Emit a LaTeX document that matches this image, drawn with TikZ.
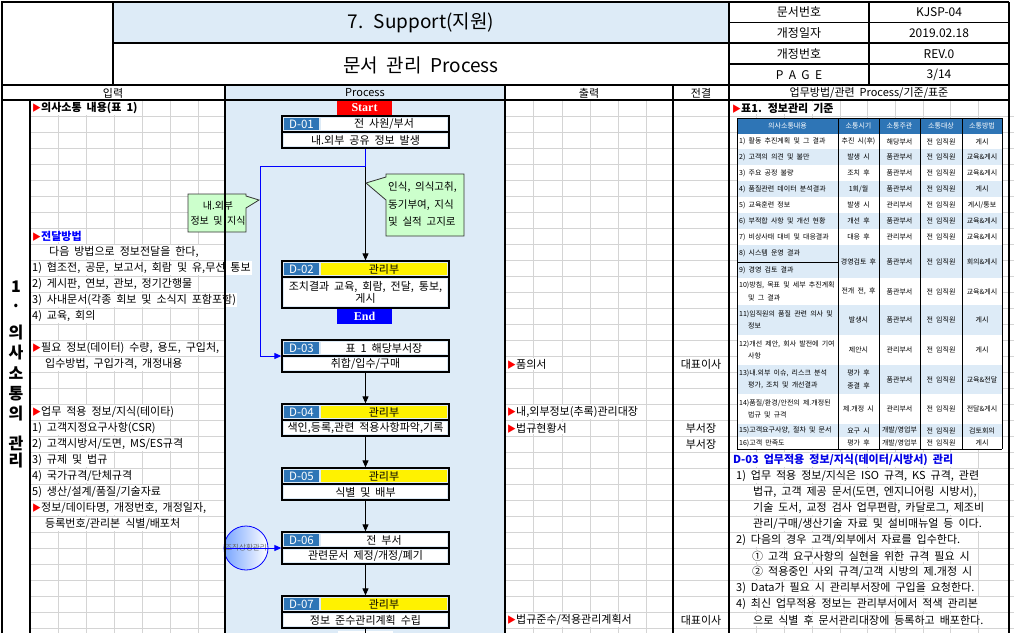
\documentclass[tikz,border=0pt]{standalone}
\usepackage{fontspec}
\setmainfont{Noto Sans CJK KR}[WordSpace=2]
\newfontfamily\serifb{Liberation Serif}
\usetikzlibrary{arrows.meta,shapes.geometric}
\definecolor{pblue}{RGB}{221,235,247}
\definecolor{lblue}{RGB}{46,117,182}
\definecolor{cgreen}{RGB}{204,255,204}
\definecolor{gridc}{RGB}{212,212,212}
\definecolor{dblue}{RGB}{0,0,230}
\newcommand\bul{{\color{red}\fontsize{9}{9}\selectfont ▶}}
\newcommand\DBox[7]{%
 \node[draw=black, line width=1.3pt, minimum width=167pt, minimum height=#7pt, inner sep=0pt] (#1) at (365.5,{#2+#7/2}) {};
 \fill[lblue] (284,{#2+2}) rectangle (319,{#2+14});
 \node[font=\fontsize{11.5}{12}\selectfont, text=white, inner sep=0pt] (#1l) at (301.5,{#2+8}) {#3};
 \fill[#4] (321,{#2+2}) rectangle (447,{#2+14});
 \node[font=\fontsize{11}{12}\selectfont, inner sep=0pt] (#1h) at (384,{#2+8}) {#5};
 \draw[line width=1.1pt] (282,{#2+16}) -- (449,{#2+16});
 \fill[white] (284,{#2+18}) rectangle (447,{#2+#7-2});
 \node[font=\fontsize{11}{12}\selectfont, inner sep=0pt, align=center] (#1b) at (365.5,{#2+16+(#7-16)/2}) {#6};
}
\newcommand\trow[8]{%
 \fill[#3] (737,#1) rectangle (1002,#2);
 \node[tc1] (t#1a) at (739,{(#1+#2)/2}) {#4};
 \node[tc] (t#1b) at (858.5,{(#1+#2)/2}) {#5};
 \node[tc] (t#1c) at (899.5,{(#1+#2)/2}) {#6};
 \node[tc] (t#1d) at (941,{(#1+#2)/2}) {#7};
 \node[tc] (t#1e) at (982,{(#1+#2)/2}) {#8};
 \draw[tline] (737,#2) -- (1002,#2);
}
\begin{document}
\begin{tikzpicture}[x=1pt,y=-1pt,
 grid/.style={draw=gridc, line width=0.6pt},
 bd/.style={draw=black, line width=1.1pt},
 lt/.style={anchor=west, fill=white, inner xsep=1pt, inner ysep=1pt, font=\fontsize{11}{12}\selectfont},
 ct/.style={fill=white, inner xsep=1pt, inner ysep=1pt, font=\fontsize{11}{12}\selectfont},
 hd/.style={font=\fontsize{11}{12}\selectfont, inner sep=0pt},
 hr/.style={font=\fontsize{12}{13}\selectfont, inner sep=0pt},
 vt/.style={font=\fontsize{16}{16}\selectfont\bfseries, inner sep=0pt},
 tc/.style={font=\fontsize{7}{12.5}\selectfont, align=center, inner sep=0pt},
 tc1/.style={font=\fontsize{7}{12.5}\selectfont, align=left, anchor=west, inner sep=0pt},
 tline/.style={draw=black, line width=0.6pt},
 arr/.style={draw=black, line width=1pt, -{Triangle[length=7pt,width=6pt]}},
 barr/.style={draw=blue, line width=1pt, -{Triangle[length=7pt,width=6pt]}},
 callout/.style={fill=cgreen, draw=black!80, line width=0.8pt},
 cot/.style={font=\fontsize{10.5}{11}\selectfont, inner sep=0pt},
 sebox/.style={minimum width=55pt, inner sep=0pt, text=white, font=\serifb\fontsize{12}{12}\selectfont\bfseries}
]
\useasboundingbox (0,0) rectangle (1014,633);
\fill[white] (0,0) rectangle (1014,633);
% fills
\fill[pblue] (113,2) rectangle (729,43);
\fill[pblue] (225,85) rectangle (505,633);
% grid
\foreach \x in {58,86,114,142,170,198} \draw[grid] (\x,100) -- (\x,633);
\foreach \x in {533,562,590,618,646} \draw[grid] (\x,100) -- (\x,633);
\foreach \i in {1,...,9} \draw[grid] ({729+27.7*\i},100) -- ({729+27.7*\i},633);
\foreach \i in {1,...,33} {
  \draw[grid] (30,{100+16*\i}) -- (225,{100+16*\i});
  \draw[grid] (505,{100+16*\i}) -- (1014,{100+16*\i});
}
% header texts
\node[font=\fontsize{19}{20}\selectfont, inner sep=0pt] (title1) at (421,23) {7. Support(지원)};
\node[font=\fontsize{19}{20}\selectfont, inner sep=0pt] (title2) at (421,65) {문서 관리 Process};
\node[hr] (h1) at (799,12.5) {문서번호};
\node[hr] (h2) at (939,12.5) {KJSP-04};
\node[hr] (h3) at (799,33) {개정일자};
\node[hr] (h4) at (939,33) {2019.02.18};
\node[hr] (h5) at (799,54) {개정번호};
\node[hr] (h6) at (939,54) {REV.0};
\node[hr] (h7) at (799,75) {P A G E};
\node[hr] (h8) at (939,75) {3/14};
\node[hd] (c1) at (113,93) {입력};
\node[hd] (c2) at (365,93) {Process};
\node[hd] (c3) at (589,93) {출력};
\node[hd] (c4) at (701,93) {전결};
\node[hd] (c5) at (869,93) {업무방법/관련 Process/기준/표준};
% vertical section label
\node[vt] (v1) at (16,287) {1};
\node[vt] (v2) at (16,306) {.};
\node[vt] (v3) at (16,333) {의};
\node[vt] (v4) at (16,353) {사};
\node[vt] (v5) at (16,373) {소};
\node[vt] (v6) at (16,394) {통};
\node[vt] (v7) at (16,414) {의};
\node[vt] (v8) at (16,443) {관};
\node[vt] (v9) at (16,461) {리};
% left column
\node[lt] (a0) at (31,108) {\bul\textbf{의사소통 내용(표 1)}};
\node[lt] (a8) at (31,236) {\bul\textcolor{blue}{\textbf{전달방법}}};
\node[lt] (a9) at (48,252) {다음 방법으로 정보전달을 한다,};
\node[lt] (a10) at (31,268) {1) 협조전, 공문, 보고서, 회람 및 유,무선 통보};
\node[lt] (a11) at (31,284) {2) 게시판, 연보, 관보, 정기간행물};
\node[lt] (a12) at (31,300) {3) 사내문서(각종 회보 및 소식지 포함포함)};
\node[lt] (a13) at (31,316) {4) 교육, 회의};
\node[lt] (a15) at (31,348) {\bul 필요 정보(데이터) 수량, 용도, 구입처,};
\node[lt] (a16) at (44,364) {입수방법, 구입가격, 개정내용};
\node[lt] (a19) at (31,412) {\bul 업무 적용 정보/지식(테이타)};
\node[lt] (a20) at (31,428) {1) 고객지정요구사항(CSR)};
\node[lt] (a21) at (31,444) {2) 고객시방서/도면, MS/ES규격};
\node[lt] (a22) at (31,460) {3) 규제 및 법규};
\node[lt] (a23) at (31,476) {4) 국가규격/단체규격};
\node[lt] (a24) at (31,492) {5) 생산/설계/품질/기술자료};
\node[lt] (a25) at (31,508) {\bul 정보/데이타명, 개정번호, 개정일자,};
\node[lt] (a26) at (44,524) {등록번호/관리본 식별/배포처};
% output column
\node[lt] (o16) at (506,364) {\bul 품의서};
\node[ct] (e16) at (701,364) {대표이사};
\node[lt] (o19) at (506,412) {\bul 내,외부정보(추록)관리대장};
\node[lt] (o20) at (506,428) {\bul 법규현황서};
\node[ct] (e20) at (701,428) {부서장};
\node[ct] (e21) at (701,444) {부서장};
\node[lt] (o32) at (506,620) {\bul 법규준수/적용관리계획서};
\node[ct] (e32) at (701,620) {대표이사};
% right column text
\node[lt] (r0) at (731,108) {\bul\textbf{표1. 정보관리 기준}};
\node[lt] (r22) at (732,460) {\textcolor{dblue}{\textbf{D-03 업무적용 정보/지식(데이터/시방서) 관리}}};
\node[lt] (r23) at (735,476) {1) 업무 적용 정보/지식은 ISO 규격, KS 규격, 관련};
\node[lt] (r24) at (752,492) {법규, 고객 제공 문서(도면, 엔지니어링 시방서),};
\node[lt] (r25) at (752,508) {기술 도서, 교정 검사 업무편람, 카달로그, 제조비};
\node[lt] (r26) at (752,524) {관리/구매/생산기술 자료 및 설비매뉴얼 등 이다.};
\node[lt] (r27) at (735,540) {2) 다음의 경우 고객/외부에서 자료를 입수한다.};
\node[lt] (r28) at (751,556) {① 고객 요구사항의 실현을 위한 규격 필요 시};
\node[lt] (r29) at (751,572) {② 적용중인 사외 규격/고객 시방의 제.개정 시};
\node[lt] (r30) at (735,588) {3) Data가 필요 시 관리부서장에 구입을 요청한다.};
\node[lt] (r31) at (735,604) {4) 최신 업무적용 정보는 관리부서에서 적색 관리본};
\node[lt] (r32) at (752,620) {으로 식별 후 문서관리대장에 등록하고 배포한다.};
% table
\fill[lblue] (737,118) rectangle (1002,134);
\node[tc, text=white] (th1) at (787.5,126) {의사소통내용};
\node[tc, text=white] (th2) at (858.5,126) {소통시기};
\node[tc, text=white] (th3) at (899.5,126) {소통주관};
\node[tc, text=white] (th4) at (941,126) {소통대상};
\node[tc, text=white] (th5) at (982,126) {소통방법};
\draw[tline] (737,118) -- (1002,118);
\draw[tline] (737,134) -- (1002,134);
\trow{134}{149}{white}{1) 활동 추진계획 및 그 결과}{추진 시(후)}{해당부서}{전 임직원}{게시}
\trow{149}{165}{pblue}{2) 고객의 의견 및 불만}{발생 시}{품관부서}{전 임직원}{교육\&게시}
\trow{165}{181}{white}{3) 주요 공정 불량}{조치 후}{품관부서}{전 임직원}{교육\&게시}
\trow{181}{197}{pblue}{4) 품질관련 데이터 분석결과}{1회/월}{품관부서}{전 임직원}{게시}
\trow{197}{213}{white}{5) 교육훈련 정보}{발생 시}{관리부서}{전 임직원}{게시/통보}
\trow{213}{229}{pblue}{6) 부적합 사항 및 개선 현황}{개선 후}{품관부서}{전 임직원}{교육\&게시}
\trow{229}{245}{white}{7) 비상사태 대비 및 대응결과}{대응 후}{관리부서}{전 임직원}{교육\&게시}
\trow{245}{278}{pblue}{8) 시스템 운영 결과\\[4.5pt]9) 경영 검토 결과}{경영검토 후}{품관부서}{전 임직원}{회의\&게시}
\draw[tline] (737,262) -- (838,262);
\trow{278}{305}{white}{10)방침, 목표 및 세부 추진계획\\\hspace*{9pt}및 그 결과}{전개 전, 후}{품관부서}{전 임직원}{교육\&게시}
\trow{305}{335}{pblue}{11)임직원의 품질 관련 의사 및\\\hspace*{9pt}정보}{발생시}{품관부서}{전 임직원}{게시}
\trow{335}{365}{white}{12)개선 제안, 회사 발전에 기여\\\hspace*{9pt}사항}{제안시}{관리부서}{전 임직원}{게시}
\trow{365}{394}{pblue}{13)내.외부 이슈, 리스크 분석\\\hspace*{9pt}평가, 조치 및 개선결과}{평가 후\\종결 후}{품관부서}{전 임직원}{교육\&전달}
\trow{394}{424}{white}{14)품질/환경/안전의 제.개정된\\\hspace*{9pt}법규 및 규격}{제.개정 시}{관리부서}{전 임직원}{전달\&게시}
\trow{424}{437}{pblue}{15)고객요구사양, 절차 및 문서}{요구 시}{개발/영업부}{전 임직원}{검토회의}
\trow{437}{449}{white}{16)고객 만족도}{평가 후}{개발/영업부}{전 임직원}{게시}
\foreach \x in {737,838,879,920,962,1002} \draw[tline] (\x,118) -- (\x,449);
% process column
\node[sebox, fill=red, minimum height=16pt] (start) at (364.5,108) {Start};
\DBox{d1}{116}{D-01}{white}{전 사원/부서}{내.외부 공유 정보 발생}{32}
\DBox{d2}{261}{D-02}{yellow}{관리부}{조치결과 교육, 회람, 전달, 통보,\\게시}{47}
\node[sebox, fill=blue, minimum height=15pt] (end) at (364.5,316.5) {End};
\DBox{d3}{340}{D-03}{white}{표 1 해당부서장}{취합/입수/구매}{32}
\DBox{d4}{404}{D-04}{yellow}{관리부}{색인,등록,관련 적용사항파악,기록}{32}
\DBox{d5}{468}{D-05}{yellow}{관리부}{식별 및 배부}{32}
\DBox{d6}{532}{D-06}{white}{전 부서}{관련문서 제정/개정/폐기}{32}
\DBox{d7}{596}{D-07}{yellow}{관리부}{정보 준수관리계획 수립}{32}
\fill[white] (338,630.5) rectangle (393,633);
\draw[line width=1pt] (d7.south) -- (365.5,633);
% connectors
\coordinate (j1) at (365.5,166);
\coordinate (k1) at (260,166);
\draw[arr] (j1) -- (d2.north);
\draw[barr] (d1.south) -- (j1) -- (k1) |- (d3.west);
\draw[arr] (d3.south) -- (d4.north);
\draw[arr] (d4.south) -- (d5.north);
\draw[arr] (d5.south) -- (d6.north);
\draw[arr] (d6.south) -- (d7.north);
% callouts
\draw[callout] (386,174) -- (464,174) -- (464,236) -- (386,236) -- (386,200) -- (366,183) -- (386,177) -- cycle;
\node[cot, anchor=west] (co1) at (388,187) {인식, 의식고취,};
\node[cot, anchor=west] (co2) at (388,205) {동기부여, 지식};
\node[cot, anchor=west] (co3) at (388,222) {및 실적 고지로};
\draw[callout] (188,194) -- (246,194) -- (246,196) -- (259,200) -- (246,208) -- (246,232) -- (188,232) -- cycle;
\node[cot, font=\fontsize{10}{11}\selectfont] (cl1) at (218,206) {내.외부};
\node[cot, font=\fontsize{10}{11}\selectfont] (cl2) at (218,221) {정보 및 지식};
% circle
\node[circle, minimum size=44pt, inner sep=0pt, draw=blue, line width=0.8pt, left color={rgb,255:red,120;green,165;blue,255}, right color=white, text=black!60, font=\fontsize{7.5}{8}\selectfont] (org) at (246,548) {조직상황관리};
\draw[barr] (org.west) -- (d6.west);
% borders
\draw[bd] (2,633) -- (2,2) -- (1009,2);
\draw[bd] (113,2) -- (113,85);
\draw[bd] (113,43) -- (1009,43);
\draw[bd] (729,2) -- (729,85);
\draw[bd] (869,2) -- (869,85);
\draw[bd] (729,22.5) -- (1009,22.5);
\draw[bd] (729,64) -- (1009,64);
\draw[bd] (2,85) -- (1009,85);
\draw[bd] (2,100) -- (1009,100);
\draw[bd] (225,85) -- (225,633);
\draw[bd] (505,85) -- (505,633);
\draw[bd] (673,85) -- (673,633);
\draw[bd] (729,85) -- (729,633);
\draw[bd] (30,100) -- (30,633);
\draw[draw=black, line width=2pt] (1009,2) -- (1009,633);
\end{tikzpicture}
\end{document}
